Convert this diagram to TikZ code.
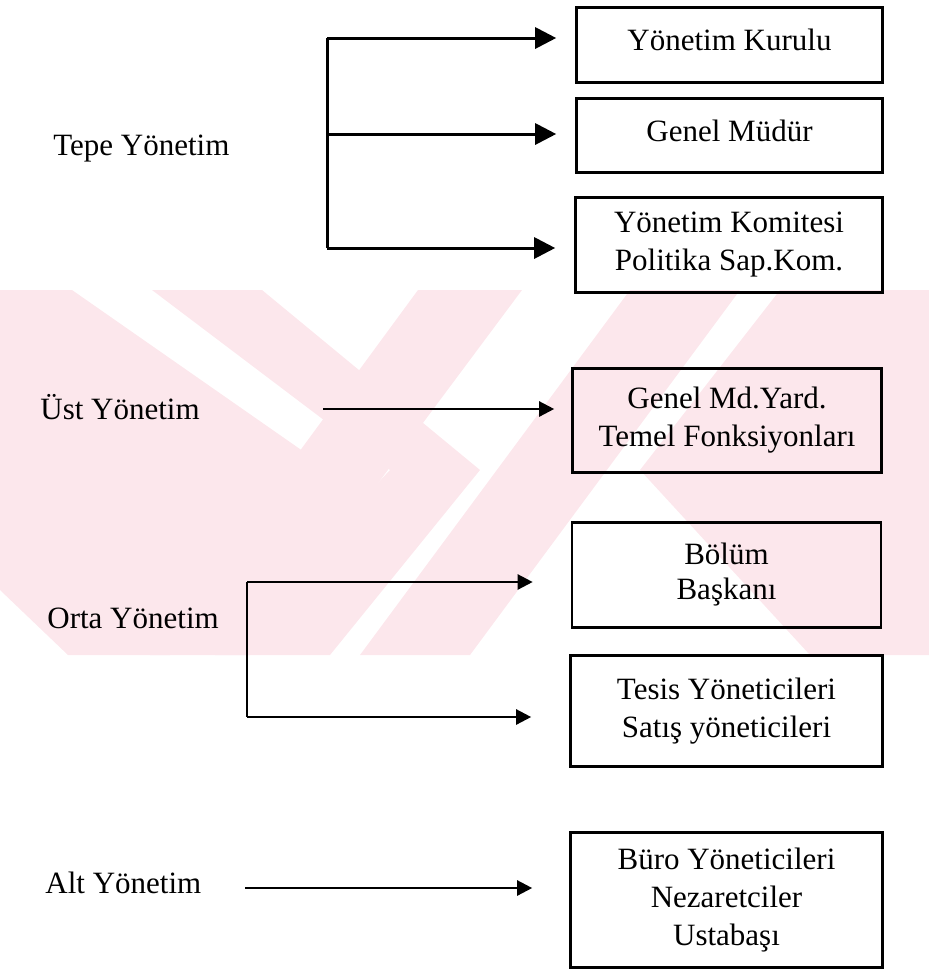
\documentclass[tikz,border=0pt]{standalone}
\usepackage{fontspec}
\setmainfont{Liberation Serif}
\usetikzlibrary{arrows.meta}
\definecolor{filigran}{RGB}{252,231,236}

\begin{document}
\begin{tikzpicture}[x=0.5pt,y=-0.5pt,
  kutu/.style={draw,line width=1.3pt,align=center,inner sep=0pt,
    font=\fontsize{15.5}{19}\selectfont},
  seviye/.style={anchor=base west,inner sep=0pt,font=\fontsize{15.5}{19}\selectfont},
  kalinok/.style={line width=1.5pt,-{Triangle[length=10.5pt,width=10.5pt]}},
  ok/.style={line width=1.2pt,-{Triangle[length=7.5pt,width=7.5pt]}}]
\useasboundingbox (0,0) rectangle (929,971);
% watermark
\begin{scope}
\clip (0,290) rectangle (929,655);
\fill[filigran] (0,290) -- (72,290) -- (330,470) -- (170,655) -- (68,655) -- (0,590) -- cycle;
\fill[filigran] (152,290) -- (262,290) -- (480,470) -- (330,655) -- (215,655) -- (390,470) -- cycle;
\fill[filigran] (418,290) -- (522,290) -- (250,655) -- (150,655) -- cycle;
\fill[filigran] (630,290) -- (740,290) -- (470,655) -- (360,655) -- cycle;
\fill[filigran] (780,290) -- (929,290) -- (929,655) -- (810,655) -- (640,470) -- cycle;
\end{scope}

% boxes
\node[kutu,minimum width=153pt,minimum height=37.5pt,text depth=5pt] (kurul) at (729.5,45) {Yönetim Kurulu};
\node[kutu,minimum width=153pt,minimum height=37pt,text depth=4.5pt] (gm) at (729.5,135.5) {Genel Müdür};
\node[kutu,minimum width=153.5pt,minimum height=47.5pt] (komite) at (729,245) {Yönetim Komitesi\\Politika Sap.Kom.};
\node[kutu,minimum width=154.5pt,minimum height=52pt] (gmy) at (727,420.5) {Genel Md.Yard.\\Temel Fonksiyonları};
\node[kutu,minimum width=154.5pt,minimum height=52.5pt,font=\fontsize{15.5}{17.5}\selectfont] (bolum) at (726.5,575) {Bölüm\\Başkanı};
\node[kutu,minimum width=156pt,minimum height=55.5pt] (tesis) at (726.5,711) {Tesis Yöneticileri\\Satış yöneticileri};
\node[kutu,minimum width=156pt,minimum height=67.5pt] (buro) at (726.5,900) {Büro Yöneticileri\\Nezaretciler\\Ustabaşı};

% levels
\node[seviye] (tepe) at (53,155) {Tepe Yönetim};
\node[seviye] (ust) at (40,419) {Üst Yönetim};
\node[seviye] (orta) at (47,628) {Orta Yönetim};
\node[seviye] (alt) at (45,893) {Alt Yönetim};

\coordinate (t1) at (327,38);
\coordinate (t2) at (327,134);
\coordinate (t3) at (327,248);
\coordinate (u1) at (323,409);
\coordinate (o1) at (247,582);
\coordinate (o2) at (247,717);
\coordinate (a1) at (245,888);

% arrows
\draw[line width=1.5pt] (t1) -- (t3);
\draw[kalinok,shorten >=9.5pt] (t1) -- (t1 -| kurul.west);
\draw[kalinok,shorten >=9.5pt] (t2) -- (t2 -| gm.west);
\draw[kalinok,shorten >=9.5pt] (t3) -- (t3 -| komite.west);
\draw[ok,shorten >=8.5pt] (u1) -- (u1 -| gmy.west);
\draw[line width=1.2pt] (o1) -- (o2);
\draw[ok,shorten >=19pt] (o1) -- (o1 -| bolum.west);
\draw[ok,shorten >=19pt] (o2) -- (o2 -| tesis.west);
\draw[ok,shorten >=18.5pt] (a1) -- (a1 -| buro.west);
\end{tikzpicture}
\end{document}
